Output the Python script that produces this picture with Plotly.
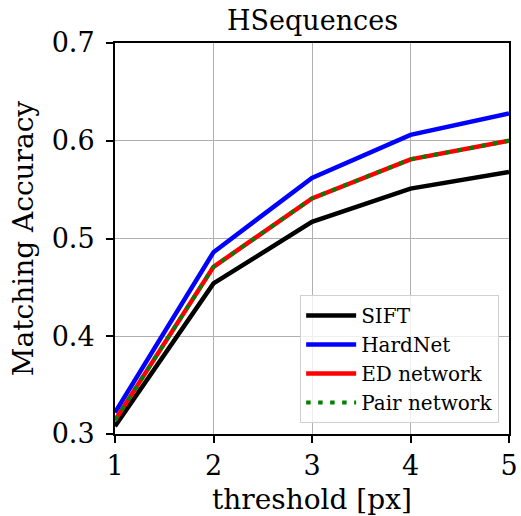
import plotly.graph_objects as go

thresholds = [1, 2, 3, 4, 5]
sift = [0.308, 0.454, 0.517, 0.551, 0.568]
hardnet = [0.322, 0.486, 0.562, 0.606, 0.628]
ed_network = [0.314, 0.471, 0.541, 0.581, 0.600]
pair_network = [0.314, 0.471, 0.541, 0.581, 0.600]
x_ticks = [1, 2, 3, 4, 5]
y_ticks = [0.3, 0.4, 0.5, 0.6, 0.7]
title_text = "HSequences"

font_family = "DejaVu Serif"

fig = go.Figure()
fig.add_trace(go.Scatter(x=thresholds, y=sift, mode="lines", name="SIFT",
                         line=dict(color="black", width=4.5)))
fig.add_trace(go.Scatter(x=thresholds, y=hardnet, mode="lines", name="HardNet",
                         line=dict(color="blue", width=4.5)))
fig.add_trace(go.Scatter(x=thresholds, y=ed_network, mode="lines", name="ED network",
                         line=dict(color="red", width=4.5)))
fig.add_trace(go.Scatter(x=thresholds, y=pair_network, mode="lines", name="Pair network",
                         line=dict(color="green", width=4, dash="4.5px,7.5px")))

fig.update_layout(
    width=521, height=516,
    margin=dict(l=115, r=12, t=43, b=82, autoexpand=False),
    paper_bgcolor="white", plot_bgcolor="white",
    font=dict(family=font_family, color="black", size=20),
    showlegend=True,
    legend=dict(x=0.975, y=0.028, xanchor="right", yanchor="bottom",
                bgcolor="rgba(255,255,255,0.8)", bordercolor="#d0d0d0", borderwidth=1,
                font=dict(size=20, family=font_family, color="black"),
                tracegroupgap=0, itemwidth=50),
)
fig.add_annotation(text=title_text, xref="paper", yref="paper", x=0.5, y=1.0588,
                   xanchor="center", yanchor="middle", showarrow=False,
                   font=dict(size=27, family=font_family, color="black"))
fig.update_xaxes(
    range=[1, 5], tickvals=x_ticks, ticktext=[str(v) for v in x_ticks],
    showgrid=True, gridcolor="#b0b0b0", gridwidth=1.3,
    showline=True, linecolor="black", linewidth=2, mirror=True,
    ticks="outside", ticklen=7, tickwidth=2, tickcolor="black",
    tickfont=dict(size=27, family=font_family, color="black"),
    title=dict(text="threshold [px]", font=dict(size=28, family=font_family, color="black")),
    zeroline=False, automargin=False,
)
fig.update_yaxes(
    range=[0.3, 0.7], tickvals=y_ticks, ticktext=[f"{v:.1f}" for v in y_ticks],
    showgrid=True, gridcolor="#b0b0b0", gridwidth=1.3,
    showline=True, linecolor="black", linewidth=2, mirror=True,
    ticks="outside", ticklen=7, tickwidth=2, tickcolor="black",
    ticklabelstandoff=6,
    tickfont=dict(size=27, family=font_family, color="black"),
    title=dict(text="Matching Accuracy", font=dict(size=28, family=font_family, color="black"),
               standoff=10),
    zeroline=False, automargin=True,
)

fig.write_html("out.html")
